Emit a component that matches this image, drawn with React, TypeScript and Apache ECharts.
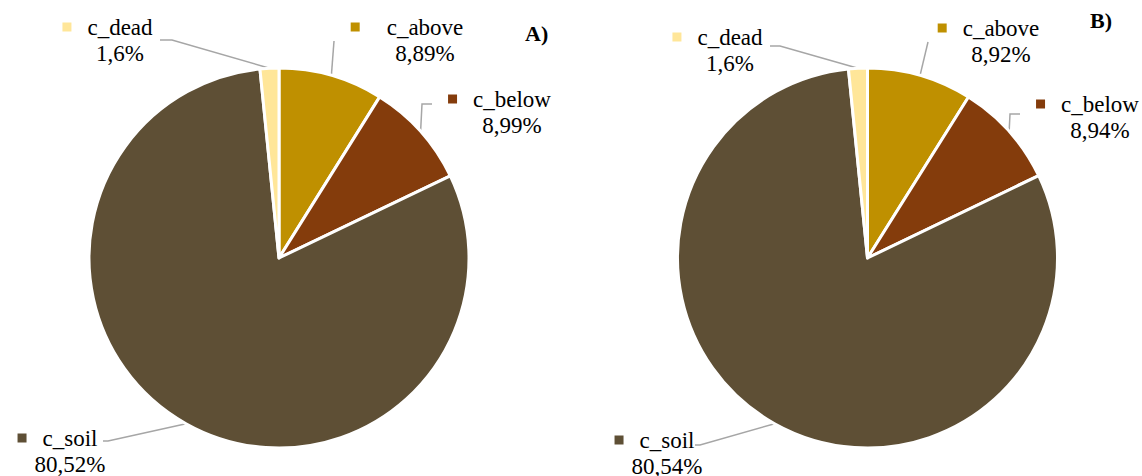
import React, { useEffect, useRef } from "react";
import * as echarts from "echarts";

const categories = ["c_above", "c_below", "c_soil", "c_dead"];
const valuesA = [8.89, 8.99, 80.52, 1.6];
const valuesB = [8.92, 8.94, 80.54, 1.6];
const colors = ["#BF9000", "#843C0C", "#5E4F35", "#FFE699"];
const panelTitles = ["A)", "B)"];

// label layout: [text centre x, block middle y], and label line bends, per panel / category
const labelPosA = [[425, 40], [512, 112], [70, 451], [120, 40]];
const labelPosB = [[1001, 41], [1100, 117], [667, 453], [730, 50]];
const bendsA = [[[334, 41]], [[422, 104], [432, 104]], [[108, 441], [103, 441]], [[172, 40], [160, 40]]];
const bendsB = [[[928, 42]], [[1010, 114], [1020, 114]], [[700, 445], [695, 445]], [[780, 46], [770, 46]]];
const gapsA = [27, 16, 16, 16];
const gapsB = [16, 16, 16, 16];

const FONT = "Liberation Serif, Times New Roman, serif";
const MARK = 9;
const LH = 26;

function fmt(v: number) {
  return String(v).replace(".", ",") + "%";
}

function buildSeries(
  values: number[],
  cx: number,
  pos: number[][],
  bends: number[][][],
  gaps: number[]
) {
  const txt = { fontFamily: FONT, fontSize: 23, fontWeight: "normal", color: "#000", lineHeight: LH };
  const rich: Record<string, any> = { n: { ...txt }, v: { ...txt } };
  categories.forEach((_, i) => {
    rich["m" + i] = { width: MARK, height: MARK, backgroundColor: colors[i], fontFamily: FONT, fontSize: 4, lineHeight: LH };
    rich["g" + i] = { width: gaps[i], fontFamily: FONT, fontSize: 4, lineHeight: LH };
    rich["p" + i] = { width: MARK + gaps[i], fontFamily: FONT, fontSize: 4, lineHeight: LH };
  });
  return {
    type: "pie",
    center: [cx, 258],
    radius: 190,
    startAngle: 90,
    clockwise: true,
    avoidLabelOverlap: false,
    itemStyle: { borderColor: "#fff", borderWidth: 3 },
    data: categories.map((c, i) => ({
      name: c,
      value: values[i],
      itemStyle: { color: colors[i] },
    })),
    label: {
      show: true,
      position: "outside",
      align: "center",
      fontFamily: FONT,
      fontSize: 23,
      color: "#000",
      formatter: (p: any) => {
        const i = p.dataIndex;
        return `{m${i}| }{g${i}| }{n|${p.name}}\n{p${i}| }{v|${fmt(p.value)}}`;
      },
      rich,
    },
    labelLine: {
      show: true,
      lineStyle: { color: "#A6A6A6", width: 1.5 },
    },
    labelLayout: (params: any) => {
      const i = params.dataIndex;
      const start = params.labelLinePoints ? params.labelLinePoints[0] : [0, 0];
      return {
        x: pos[i][0] - (MARK + gaps[i]) / 2,
        y: pos[i][1],
        align: "center",
        verticalAlign: "middle",
        labelLinePoints: [start, ...bends[i]],
      };
    },
    emphasis: { disabled: true },
  };
}

export default function App() {
  const ref = useRef<HTMLDivElement>(null);
  useEffect(() => {
    if (!ref.current) return;
    const chart = echarts.init(ref.current, null, { renderer: "svg" });
    chart.setOption({
      animation: false,
      backgroundColor: "#fff",
      textStyle: { fontFamily: FONT },
      title: [
        {
          text: panelTitles[0],
          left: 520,
          top: 17,
          textStyle: { fontFamily: FONT, fontSize: 22, fontWeight: "bold", color: "#000" },
        },
        {
          text: panelTitles[1],
          left: 1085,
          top: 4,
          textStyle: { fontFamily: FONT, fontSize: 22, fontWeight: "bold", color: "#000" },
        },
      ],
      series: [
        buildSeries(valuesA, 279, labelPosA, bendsA, gapsA),
        buildSeries(valuesB, 867.5, labelPosB, bendsB, gapsB),
      ],
    });
    return () => chart.dispose();
  }, []);
  return (
    <div
      ref={ref}
      style={{ position: "fixed", left: 0, top: 0, width: 1142, height: 476 }}
    />
  );
}
